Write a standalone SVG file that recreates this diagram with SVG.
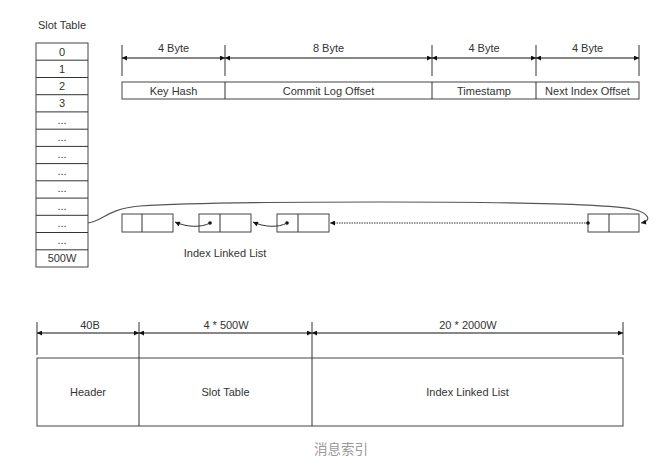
<svg xmlns="http://www.w3.org/2000/svg" width="670" height="472" viewBox="0 0 670 472">
<style>
text{font-family:"Liberation Sans",Arial,sans-serif;font-size:11px;fill:#333;text-anchor:middle;dominant-baseline:central}
.box{fill:#fff;stroke:#444;stroke-width:1}
.ln{fill:none;stroke:#333;stroke-width:1}
.dim{fill:none;stroke:#111;stroke-width:1;marker-start:url(#ah);marker-end:url(#ah)}
.cap{font-family:"Noto Sans CJK SC",sans-serif;font-size:13.5px;fill:#999}
</style>
<defs>
<marker id="ah" viewBox="0 0 6 6" refX="6" refY="3" markerWidth="6" markerHeight="5" markerUnits="userSpaceOnUse" orient="auto-start-reverse">
<path d="M0,0 L6,3 L0,6 z" fill="#111"/>
</marker>
</defs>
<g id="slot-table">
<text x="62" y="25">Slot Table</text>
<rect class="box" x="36" y="43" width="52" height="224"/>
<g class="ln">
<line x1="36" y1="60.2" x2="88" y2="60.2"/><line x1="36" y1="77.5" x2="88" y2="77.5"/>
<line x1="36" y1="94.7" x2="88" y2="94.7"/><line x1="36" y1="111.9" x2="88" y2="111.9"/>
<line x1="36" y1="129.2" x2="88" y2="129.2"/><line x1="36" y1="146.4" x2="88" y2="146.4"/>
<line x1="36" y1="163.6" x2="88" y2="163.6"/><line x1="36" y1="180.8" x2="88" y2="180.8"/>
<line x1="36" y1="198.1" x2="88" y2="198.1"/><line x1="36" y1="215.3" x2="88" y2="215.3"/>
<line x1="36" y1="232.5" x2="88" y2="232.5"/><line x1="36" y1="249.8" x2="88" y2="249.8"/>
</g>
<text x="62" y="51.6">0</text><text x="62" y="68.8">1</text><text x="62" y="86.1">2</text><text x="62" y="103.3">3</text>
<text x="62" y="119.5">...</text><text x="62" y="136.8">...</text><text x="62" y="154">...</text><text x="62" y="171.2">...</text>
<text x="62" y="188.4">...</text><text x="62" y="205.7">...</text><text x="62" y="222.9">...</text><text x="62" y="240.1">...</text>
<text x="62" y="258.4">500W</text>
</g>
<g id="index-fields">
<rect class="box" x="122" y="82" width="517" height="17"/>
<g class="ln"><line x1="225" y1="82" x2="225" y2="99"/><line x1="432" y1="82" x2="432" y2="99"/><line x1="536" y1="82" x2="536" y2="99"/></g>
<text x="173.5" y="90.5">Key Hash</text>
<text x="328.5" y="90.5">Commit Log Offset</text>
<text x="484" y="90.5">Timestamp</text>
<text x="587.5" y="90.5">Next Index Offset</text>
</g>
<g id="field-dimensions">
<g class="ln"><line x1="122" y1="45" x2="122" y2="76"/><line x1="225" y1="45" x2="225" y2="76"/><line x1="432" y1="45" x2="432" y2="76"/><line x1="536" y1="45" x2="536" y2="76"/><line x1="639" y1="45" x2="639" y2="76"/></g>
<line class="dim" x1="122" y1="58" x2="225" y2="58"/>
<line class="dim" x1="225" y1="58" x2="432" y2="58"/>
<line class="dim" x1="432" y1="58" x2="536" y2="58"/>
<line class="dim" x1="536" y1="58" x2="639" y2="58"/>
<text x="173.5" y="48">4 Byte</text>
<text x="328.5" y="48">8 Byte</text>
<text x="484" y="48">4 Byte</text>
<text x="587.5" y="48">4 Byte</text>
</g>
<g id="linked-list">
<rect class="box" x="122" y="214" width="51" height="18"/><line class="ln" x1="142" y1="214" x2="142" y2="232"/>
<rect class="box" x="199" y="214" width="52" height="18"/><line class="ln" x1="220" y1="214" x2="220" y2="232"/>
<rect class="box" x="277" y="214" width="52" height="18"/><line class="ln" x1="298" y1="214" x2="298" y2="232"/>
<rect class="box" x="588" y="214" width="51" height="18"/><line class="ln" x1="609" y1="214" x2="609" y2="232"/>
<circle cx="210" cy="223" r="1.8" fill="#111"/>
<circle cx="287" cy="223" r="1.8" fill="#111"/>
<circle cx="588" cy="223" r="1.8" fill="#111"/>
<text x="225" y="253">Index Linked List</text>
</g>
<g id="connectors">
<path class="ln" d="M210,223 C201,228 186,227 175,222" marker-end="url(#ah)"/>
<path class="ln" d="M287,223 C278,228 264,227 253,222" marker-end="url(#ah)"/>
<line class="ln" x1="588" y1="223" x2="330" y2="223" stroke-dasharray="1.5,1" marker-end="url(#ah)"/>
<path d="M88,223 C104,221 106,209 140,206 C200,202 300,202 380,202 C500,202 600,203 632,209 C650,213 652,221 641,223" fill="none" stroke="#555" stroke-width="1.2" marker-end="url(#ah)"/>
</g>
<g id="file-layout">
<rect class="box" x="37" y="358" width="586" height="68"/>
<g class="ln"><line x1="139" y1="358" x2="139" y2="426"/><line x1="312" y1="358" x2="312" y2="426"/></g>
<text x="88" y="392">Header</text>
<text x="225.5" y="392">Slot Table</text>
<text x="467.5" y="392">Index Linked List</text>
</g>
<g id="layout-dimensions">
<g class="ln"><line x1="37" y1="322" x2="37" y2="355"/><line x1="139" y1="322" x2="139" y2="358"/><line x1="312" y1="322" x2="312" y2="358"/><line x1="623" y1="322" x2="623" y2="355"/></g>
<line class="dim" x1="37" y1="333" x2="139" y2="333"/>
<line class="dim" x1="139" y1="333" x2="312" y2="333"/>
<line class="dim" x1="312" y1="333" x2="623" y2="333"/>
<text x="90" y="325">40B</text>
<text x="226" y="325">4 * 500W</text>
<text x="468" y="325">20 * 2000W</text>
</g>
<text class="cap" x="341" y="448">消息索引</text>
</svg>
